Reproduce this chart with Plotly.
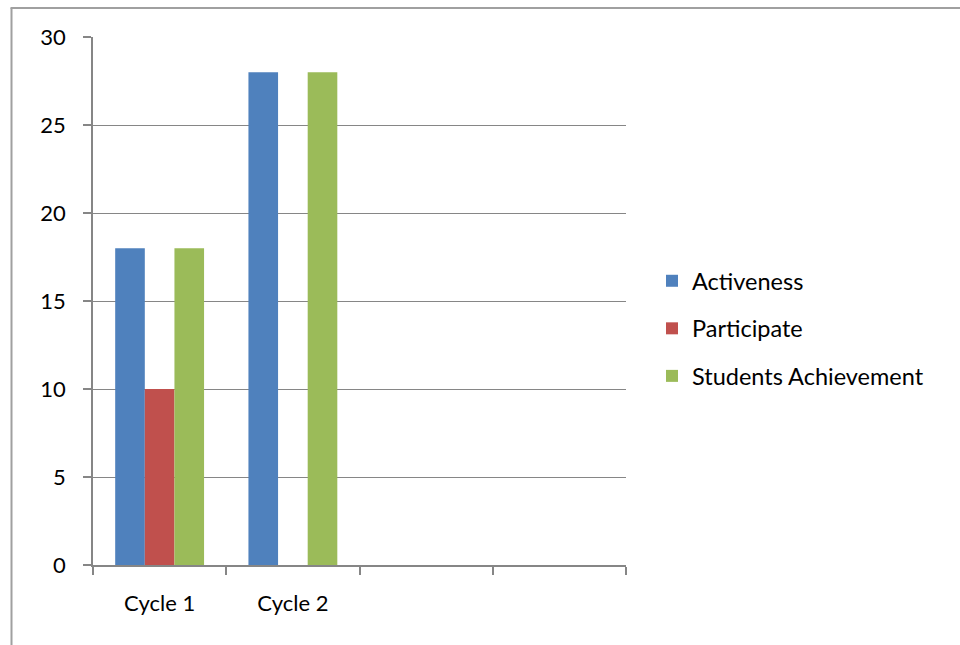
import plotly.graph_objects as go

categories = ["Cycle 1", "Cycle 2"]
axis_slots = ["Cycle 1", "Cycle 2", " ", "  "]
activeness = [18, 28]
participate = [10, 0]
achievement = [18, 28]
y_ticks = [0, 5, 10, 15, 20, 25, 30]

series = [
    ("Activeness", activeness, "#4F81BD"),
    ("Participate", participate, "#C0504D"),
    ("Students Achievement", achievement, "#9BBB59"),
]

FONT = "Lato, 'Open Sans', sans-serif"
GRID = "#868686"

fig = go.Figure()
for i, (name, vals, color) in enumerate(series):
    fig.add_trace(go.Bar(
        x=categories, y=vals, name=name,
        marker=dict(color=color, line=dict(width=0)),
        legendgroup=f"g{i}",
    ))

# plot area geometry (pixels)
L, R, T, B = 93, 626, 37, 565
W, H = 960, 645

def px_x(px):
    return (px - L) / (R - L)

def px_y(py):
    return (B - py) / (B - T)

fig.update_layout(
    width=W, height=H,
    margin=dict(l=L, r=W - R, t=T, b=H - B, pad=0),
    paper_bgcolor="white", plot_bgcolor="white",
    barmode="group", bargap=0.333, bargroupgap=0,
    font=dict(family=FONT, size=22, color="#000000"),
    legend=dict(
        x=px_x(652), y=px_y(259), xanchor="left", yanchor="top",
        font=dict(family=FONT, size=23.5), tracegroupgap=14,
        itemwidth=30, traceorder="grouped",
    ),
    xaxis=dict(
        type="category", categoryorder="array", categoryarray=axis_slots,
        tickvals=axis_slots, ticktext=axis_slots,
        range=[-0.5, 3.5], tickson="boundaries",
        ticks="outside", ticklen=8, tickcolor=GRID, tickwidth=1.5,
        showline=True, linecolor=GRID, linewidth=1.5,
        showgrid=False, ticklabelstandoff=18,
        tickfont=dict(family=FONT, size=22),
    ),
    yaxis=dict(
        range=[0, 30], tickvals=y_ticks,
        ticks="outside", ticklen=8, tickcolor=GRID, tickwidth=1.5,
        showline=True, linecolor=GRID, linewidth=1.5,
        showgrid=True, gridcolor=GRID, gridwidth=1,
        zeroline=False, ticklabelstandoff=13,
        tickfont=dict(family=FONT, size=22),
    ),
    shapes=[
        dict(type="line", xref="paper", yref="paper",
             x0=px_x(11.5), x1=px_x(11.5), y0=px_y(8), y1=px_y(650),
             line=dict(color="#A0A0A0", width=2)),
        dict(type="line", xref="paper", yref="paper",
             x0=px_x(10.5), x1=px_x(965), y0=px_y(8), y1=px_y(8),
             line=dict(color="#A0A0A0", width=2)),
    ],
)

fig.write_html("out.html")
